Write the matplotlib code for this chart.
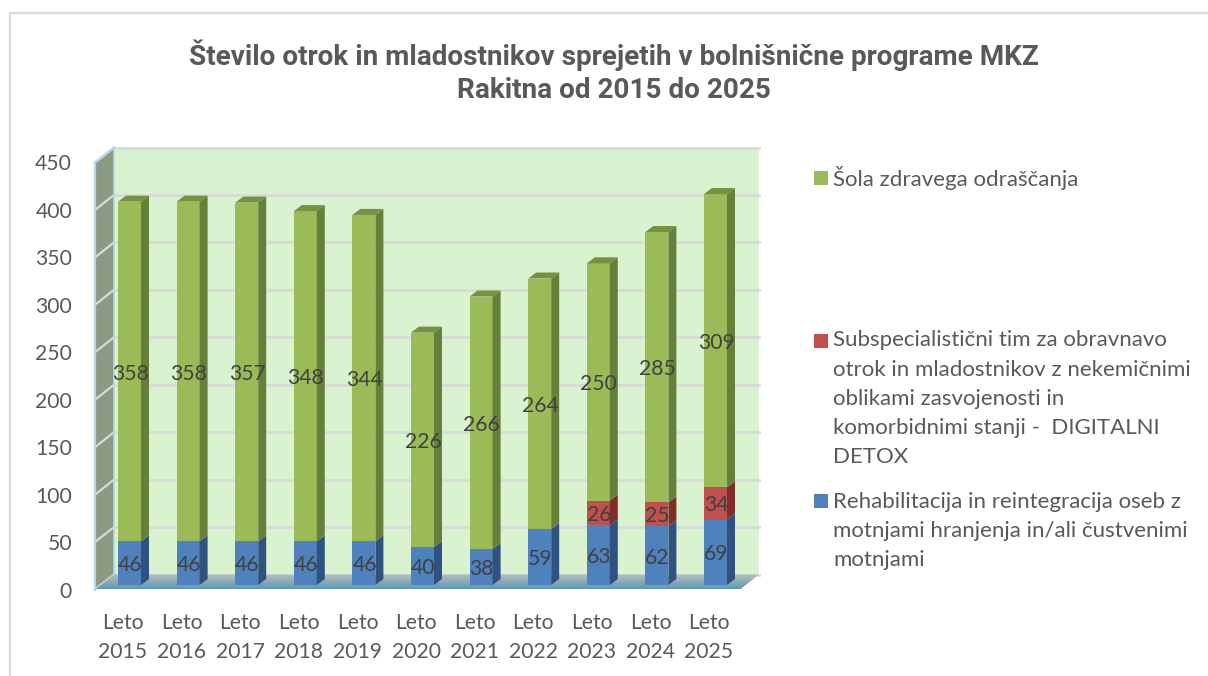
import numpy as np
import matplotlib
matplotlib.use("Agg")
import matplotlib.pyplot as plt
from matplotlib.patches import Rectangle, Polygon
from matplotlib.transforms import Affine2D

# data
years = ["Leto\n2015", "Leto\n2016", "Leto\n2017", "Leto\n2018", "Leto\n2019", "Leto\n2020",
         "Leto\n2021", "Leto\n2022", "Leto\n2023", "Leto\n2024", "Leto\n2025"]
rehab = [46, 46, 46, 46, 46, 40, 38, 59, 63, 62, 69]
detox = [0, 0, 0, 0, 0, 0, 0, 0, 26, 25, 34]
sola = [358, 358, 357, 348, 344, 226, 266, 264, 250, 285, 309]
y_ticks = [0, 50, 100, 150, 200, 250, 300, 350, 400, 450]

title_text = "Število otrok in mladostnikov sprejetih v bolnišnične programe MKZ\nRakitna od 2015 do 2025"
legend_sola = "Šola zdravega odraščanja"
legend_detox = ("Subspecialistični tim za obravnavo\notrok in mladostnikov z nekemičnimi\n"
                "oblikami zasvojenosti in\nkomorbidnimi stanji -  DIGITALNI\nDETOX")
legend_rehab = "Rehabilitacija in reintegracija oseb z\nmotnjami hranjenja in/ali čustvenimi\nmotnjami"

W, H = 1208, 676
TEXT = "#595959"
LABEL = "#404040"
GRID = "#d9d9d9"
FS = 15.2
FS_LEG = 16.0

plt.rcParams['font.family'] = ['Lato', 'DejaVu Sans']

fig = plt.figure(figsize=(W / 100, H / 100), dpi=100)
fig.patch.set_facecolor("white")


def fig_box(left, top, right, bottom):
    return [left / W, 1 - bottom / H, (right - left) / W, (bottom - top) / H]


# axes = front plane of the 3d box
ax = fig.add_axes(fig_box(95, 162.5, 740, 589.5))
ax.patch.set_alpha(0)
pitch = 58.6
xl, xr = (95 - 129.5) / pitch, (740 - 129.5) / pitch
ax.set_xlim(xl, xr)
ax.set_ylim(0, 450)
for s in ax.spines.values():
    s.set_visible(False)

back = ax.transData + Affine2D().translate(19, 15)
bar_tr = ax.transData + Affine2D().translate(0, 4.5)
label_tr = ax.transData + Affine2D().translate(0, 2.5)
upx = 450 / 427.0  # data units per pixel, y
xpx = 1 / pitch    # data units per pixel, x

# chart border
fig.add_artist(plt.Line2D([9.5 / W, 9.5 / W, 1], [0, 1 - 12.5 / H, 1 - 12.5 / H], color=GRID, lw=1.6))

# back wall, side wall
ax.fill([xl, xr, xr, xl], [0, 0, 450, 450], color="#d9f2d0", transform=back, lw=0, zorder=1, clip_on=False)
ax.fill([xl, xl + 19 * xpx, xl + 19 * xpx, xl], [0, 15 * upx, 450 + 15 * upx, 450], color="#8b9a82", lw=0, zorder=1, clip_on=False)
for t in y_ticks:
    ax.plot([xl, xr], [t, t], color=GRID, lw=2, transform=back, zorder=2, clip_on=False)
    ax.plot([xl, xl + 19 * xpx], [t, t + 15 * upx], color=GRID, lw=1.6, zorder=2, clip_on=False)
ax.plot([xl, xl], [0, 450], color="#b5d8e8", lw=1.6, zorder=2, clip_on=False)
ax.plot([xl, xl + 19 * xpx], [450, 450 + 15 * upx], color="#b5d8e8", lw=1.6, zorder=2, clip_on=False)
ax.plot([xl + 19 * xpx] * 2, [15 * upx, 450 + 15 * upx], color="#b5d8e8", lw=1.2, zorder=2, clip_on=False)

# floor with a grey to blue gradient
floor = Polygon([(xl, 0), (xr, 0), (xr + 19 * xpx, 15 * upx), (xl + 19 * xpx, 15 * upx)], closed=True,
                transform=ax.transData, facecolor="none", edgecolor="none", clip_on=False)
ax.add_patch(floor)
grad = np.linspace(0, 1, 40)[:, None, None] * (np.array([0.36, 0.60, 0.71]) - np.array([0.72, 0.75, 0.75])) + np.array([0.72, 0.75, 0.75])
im = ax.imshow(grad, extent=(xl, xr + 19 * xpx, 0, 15 * upx), aspect="auto", origin="upper", zorder=3)
im.set_clip_box(fig.bbox)
im.set_clip_path(floor)
ax.set_xlim(xl, xr)
ax.set_ylim(0, 450)

# stacked bars with fake depth
x = np.arange(len(years))
bw = 23 / pitch
dx, dy = 8 * xpx, 6 * upx
series = [(rehab, "#4f81bd", "#2f5280"), (detox, "#c0504d", "#7f2e2c"), (sola, "#9bbb59", "#66803a")]
bottom = np.zeros(len(years))
for vals, col, dark in series:
    vals = np.array(vals, dtype=float)
    ax.bar(x, vals, bw, bottom=bottom, color=col, lw=0, transform=bar_tr, zorder=5, clip_on=False)
    for i in x:
        if vals[i] == 0:
            continue
        y0, y1 = bottom[i], bottom[i] + vals[i]
        r = x[i] + bw / 2
        ax.add_patch(Polygon([(r, y0), (r + dx, y0 + dy), (r + dx, y1 + dy), (r, y1)], closed=True, color=dark, lw=0,
                             transform=bar_tr, zorder=5, clip_on=False))
        ax.text(x[i] + 0.01, (y0 + y1) / 2, f"{vals[i]:.0f}", ha="center", va="center", color=LABEL, fontsize=FS,
                transform=label_tr, zorder=7)
    bottom = bottom + vals

for i in x:
    l, r = x[i] - bw / 2, x[i] + bw / 2
    ax.add_patch(Polygon([(l, bottom[i]), (r, bottom[i]), (r + dx, bottom[i] + dy), (l + dx, bottom[i] + dy)], closed=True,
                         color="#76923f", lw=0, transform=bar_tr, zorder=5, clip_on=False))

# axis labels
ax.set_yticks(y_ticks)
ax.set_xticks(x - 0.11)
ax.set_xticklabels(years, linespacing=1.6)
ax.tick_params(axis="y", length=0, pad=16.5, labelsize=FS, labelcolor=TEXT)
ax.tick_params(axis="x", length=0, pad=16.7, labelsize=FS, labelcolor=TEXT)

# title
fig.text(614 / W, 1 - 71.5 / H, title_text, ha="center", va="center", family="Roboto",
         fontweight="bold", fontsize=20.1, color=TEXT, linespacing=1.3)


# legend, placed by hand like the original
def legend_entry(top, text_top, color, text):
    fig.add_artist(Rectangle((814 / W, 1 - (top + 14) / H), 14 / W, 14 / H, color=color, lw=0, transform=fig.transFigure))
    fig.text(833 / W, 1 - text_top / H, text, ha="left", va="top", fontsize=FS_LEG, color=TEXT, linespacing=1.57)


legend_entry(171.5, 166, "#9bbb59", legend_sola)
legend_entry(333.5, 330.5, "#c0504d", legend_detox)
legend_entry(494, 491.5, "#4f81bd", legend_rehab)

fig.savefig("out.png", dpi=100)
